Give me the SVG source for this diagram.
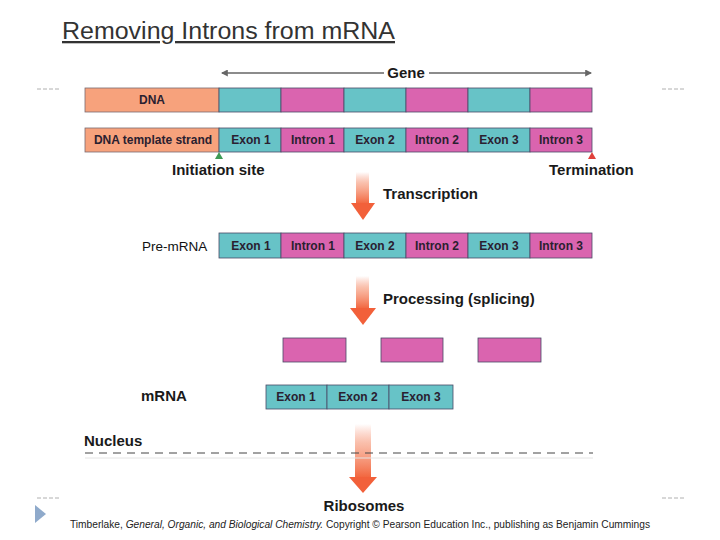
<svg xmlns="http://www.w3.org/2000/svg" width="720" height="540" viewBox="0 0 720 540">
<defs>
<style>
.lbl{font-family:"Liberation Sans",Arial,sans-serif;font-weight:bold;fill:#1a1a1a}
.seg{font-family:"Liberation Sans",Arial,sans-serif;font-weight:bold;font-size:12px;fill:#2a2030;text-anchor:middle}
.big{font-size:15px}
.o{fill:#F7A27C;stroke:#7a6a70;stroke-width:0.8}
.t{fill:#67C3C7;stroke:#4a4a66;stroke-width:0.8}
.p{fill:#DA64AF;stroke:#4a4a66;stroke-width:0.8}
.side{stroke:#b0b0b0;stroke-width:1;stroke-dasharray:4 2}
</style>
<linearGradient id="ag" x1="0" y1="0" x2="0" y2="1">
<stop offset="0" stop-color="#F46A44" stop-opacity="0"/>
<stop offset="0.35" stop-color="#F58A66" stop-opacity="0.55"/>
<stop offset="1" stop-color="#F2643C"/>
</linearGradient>
<marker id="gh" viewBox="0 0 6 6" refX="5" refY="3" markerWidth="5" markerHeight="5" orient="auto-start-reverse">
<path d="M0,0 L6,3 L0,6 z" fill="#666"/>
</marker>
</defs>
<rect width="720" height="540" fill="#fff"/>

<text x="62" y="39" font-family="'Liberation Sans',Arial,sans-serif" font-size="23" fill="#333" text-decoration="underline" textLength="333" lengthAdjust="spacingAndGlyphs">Removing Introns from mRNA</text>

<g id="side-marks">
<line class="side" x1="37" y1="89" x2="60" y2="89"/>
<line class="side" x1="662" y1="89" x2="685" y2="89"/>
<line class="side" x1="37" y1="498" x2="60" y2="498"/>
<line class="side" x1="662" y1="498" x2="685" y2="498"/>
<polygon points="35,505 46,514 35,523" fill="#8FAACB"/>
</g>

<g id="connectors">
<line x1="222" y1="73" x2="384" y2="73" stroke="#666" stroke-width="1.4" marker-start="url(#gh)"/>
<line x1="429" y1="73" x2="591" y2="73" stroke="#666" stroke-width="1.4" marker-end="url(#gh)"/>
<g id="arrow-transcription">
<rect x="356" y="172" width="13" height="32" fill="url(#ag)"/>
<polygon points="351,203 375,203 363,220" fill="#F2603A"/>
</g>
<g id="arrow-processing">
<rect x="356" y="276" width="13" height="33" fill="url(#ag)"/>
<polygon points="350,308 376,308 363,325" fill="#F2603A"/>
</g>
<g id="arrow-export">
<rect x="355" y="424" width="16" height="54" fill="url(#ag)"/>
<polygon points="349,477 377,477 363,493" fill="#F2603A"/>
</g>
</g>

<g id="gene-label"><text class="lbl big" x="406" y="78" text-anchor="middle">Gene</text></g>

<g id="dna">
<rect class="o" x="85" y="88" width="134" height="24"/>
<rect class="t" x="219" y="88" width="62" height="24"/>
<rect class="p" x="281" y="88" width="63" height="24"/>
<rect class="t" x="344" y="88" width="62" height="24"/>
<rect class="p" x="406" y="88" width="62" height="24"/>
<rect class="t" x="468" y="88" width="62" height="24"/>
<rect class="p" x="530" y="88" width="62" height="24"/>
<text class="seg" x="152" y="104">DNA</text>
</g>

<g id="template-strand">
<rect class="o" x="85" y="128" width="134" height="24"/>
<rect class="t" x="219" y="128" width="62" height="24"/>
<rect class="p" x="281" y="128" width="63" height="24"/>
<rect class="t" x="344" y="128" width="62" height="24"/>
<rect class="p" x="406" y="128" width="62" height="24"/>
<rect class="t" x="468" y="128" width="62" height="24"/>
<rect class="p" x="530" y="128" width="62" height="24"/>
<text class="seg" x="153" y="144">DNA template strand</text>
<text class="seg" x="251" y="144">Exon 1</text>
<text class="seg" x="313" y="144">Intron 1</text>
<text class="seg" x="375" y="144">Exon 2</text>
<text class="seg" x="437" y="144">Intron 2</text>
<text class="seg" x="499" y="144">Exon 3</text>
<text class="seg" x="561" y="144">Intron 3</text>
</g>

<g id="initiation">
<polygon points="215,159 223,159 219,152" fill="#3E9A55"/>
<text class="lbl big" x="172" y="175">Initiation site</text>
</g>
<g id="termination">
<polygon points="588,159 596,159 592,152" fill="#E0403A"/>
<text class="lbl big" x="549" y="175">Termination</text>
</g>

<g id="transcription-label"><text class="lbl big" x="383" y="199">Transcription</text></g>

<g id="pre-mrna">
<text x="142" y="251" font-family="'Liberation Sans',Arial,sans-serif" font-size="13.5" fill="#111">Pre-mRNA</text>
<rect class="t" x="219" y="233" width="62" height="25"/>
<rect class="p" x="281" y="233" width="63" height="25"/>
<rect class="t" x="344" y="233" width="62" height="25"/>
<rect class="p" x="406" y="233" width="62" height="25"/>
<rect class="t" x="468" y="233" width="62" height="25"/>
<rect class="p" x="530" y="233" width="62" height="25"/>
<text class="seg" x="251" y="250">Exon 1</text>
<text class="seg" x="313" y="250">Intron 1</text>
<text class="seg" x="375" y="250">Exon 2</text>
<text class="seg" x="437" y="250">Intron 2</text>
<text class="seg" x="499" y="250">Exon 3</text>
<text class="seg" x="561" y="250">Intron 3</text>
</g>

<g id="processing-label"><text class="lbl big" x="383" y="304">Processing (splicing)</text></g>

<g id="excised-introns">
<rect class="p" x="283" y="338" width="63" height="24"/>
<rect class="p" x="381" y="338" width="62" height="24"/>
<rect class="p" x="478" y="338" width="63" height="24"/>
</g>

<g id="mrna">
<text class="lbl big" x="141" y="401">mRNA</text>
<rect class="t" x="266" y="385" width="61" height="24"/>
<rect class="t" x="327" y="385" width="62" height="24"/>
<rect class="t" x="389" y="385" width="64" height="24"/>
<text class="seg" x="296" y="401">Exon 1</text>
<text class="seg" x="358" y="401">Exon 2</text>
<text class="seg" x="421" y="401">Exon 3</text>
</g>

<g id="nucleus">
<text class="lbl big" x="84" y="446">Nucleus</text>
<line x1="85" y1="453" x2="593" y2="453" stroke="#444" stroke-width="1" stroke-dasharray="8 6"/>
<line x1="85" y1="458" x2="593" y2="458" stroke="#e4e4e4" stroke-width="1"/>
</g>

<g id="ribosomes"><text class="lbl big" x="364" y="511" text-anchor="middle">Ribosomes</text></g>

<text x="70" y="528" font-family="'Liberation Sans',Arial,sans-serif" font-size="10" fill="#222" textLength="580" lengthAdjust="spacingAndGlyphs">Timberlake, <tspan font-style="italic">General, Organic, and Biological Chemistry.</tspan>  Copyright © Pearson Education Inc., publishing as Benjamin Cummings</text>
</svg>
